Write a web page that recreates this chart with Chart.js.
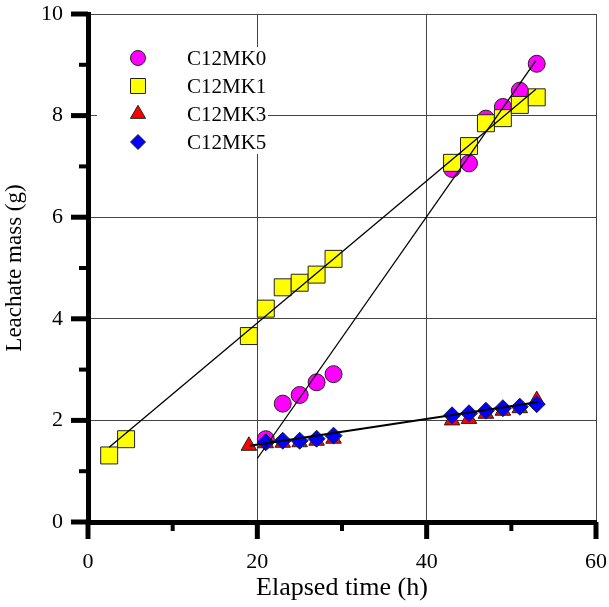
<!DOCTYPE html>
<html>
<head>
<meta charset="utf-8">
<title>Leachate mass vs elapsed time</title>
<script src="https://cdn.jsdelivr.net/npm/chart.js@4.4.0/dist/chart.umd.min.js"></script>
<style>
  html, body { margin: 0; padding: 0; background: #fff; }
  #chart { display: block; }
</style>
</head>
<body>
<canvas id="chart" width="609" height="607"></canvas>
<script>
// values
const xTickLabels = [0, 20, 40, 60];
const yTickLabels = [0, 2, 4, 6, 8, 10];

const timeMK0 = [21, 23, 25, 27, 29, 43, 45, 47, 49, 51, 53];
const massMK0 = [1.63, 2.33, 2.5, 2.75, 2.91, 6.95, 7.06, 7.94, 8.17, 8.49, 9.02];

const timeMK1 = [2.5, 4.5, 19, 21, 23, 25, 27, 29, 43, 45, 47, 49, 51, 53];
const massMK1 = [1.31, 1.63, 3.66, 4.2, 4.62, 4.71, 4.87, 5.18, 7.07, 7.4, 7.85, 7.95, 8.21, 8.36];

const timeMK3 = [19, 21, 23, 25, 27, 29, 43, 45, 47, 49, 51, 53];
const massMK3 = [1.5, 1.55, 1.56, 1.57, 1.6, 1.64, 2.0, 2.03, 2.13, 2.19, 2.24, 2.4];

const timeMK5 = [21, 23, 25, 27, 29, 43, 45, 47, 49, 51, 53];
const massMK5 = [1.57, 1.6, 1.6, 1.64, 1.7, 2.1, 2.14, 2.19, 2.24, 2.27, 2.32];

// fitted straight lines (end points)
const fitMK1Time = [2.5, 52.9];
const fitMK1Mass = [1.47, 8.52];
const fitMK0Time = [20, 52.9];
const fitMK0Mass = [1.25, 9.08];
const fitLowTime = [19.1, 53.2];
const fitLowMass = [1.5, 2.36];

const toPoints = (xs, ys) => xs.map((x, i) => ({ x: x, y: ys[i] }));

const FONT = "'Liberation Serif', 'Times New Roman', serif";

const markerSets = [
    { label: 'C12MK0', data: toPoints(timeMK0, massMK0), pointStyle: 'circle', pointRadius: 8.5, legendRadius: 7.5, backgroundColor: '#ff00ff', order: 5 },
    { label: 'C12MK1', data: toPoints(timeMK1, massMK1), pointStyle: 'rect', pointRadius: 12, legendRadius: 10.6, backgroundColor: '#ffff00', order: 4 },
    { label: 'C12MK3', data: toPoints(timeMK3, massMK3), pointStyle: 'triangle', pointRadius: 9, legendRadius: 8.7, backgroundColor: '#ff0000', order: 3 },
    { label: 'C12MK5', data: toPoints(timeMK5, massMK5), pointStyle: 'rectRot', pointRadius: 8.5, legendRadius: 7.5, backgroundColor: '#0000ff', order: 2 }
];
markerSets.forEach(ds => {
    ds.borderColor = '#222';
    ds.borderWidth = 1;
    ds.pointBorderWidth = 1;
    ds.showLine = false;
});

const fitSets = [
    { data: toPoints(fitMK1Time, fitMK1Mass), borderWidth: 1.3 },
    { data: toPoints(fitMK0Time, fitMK0Mass), borderWidth: 1.3 },
    { data: toPoints(fitLowTime, fitLowMass), borderWidth: 2 }
].map(ds => Object.assign(ds, {
    label: '',
    showLine: true,
    pointRadius: 0,
    borderColor: '#000',
    order: 1
}));

// legend drawn inside the plot area, on a white box
const innerLegend = {
    id: 'innerLegend',
    beforeDatasetsDraw(chart) {
        const ctx = chart.ctx;
        const area = chart.chartArea;
        ctx.save();
        ctx.fillStyle = '#fff';
        ctx.fillRect(area.left + 9, area.top + 33, 171, 107);
        markerSets.forEach((ds, i) => {
            const cy = area.top + 44 + i * 28;
            ctx.fillStyle = ds.backgroundColor;
            ctx.strokeStyle = ds.borderColor;
            ctx.lineWidth = 1;
            Chart.helpers.drawPoint(ctx, { pointStyle: ds.pointStyle, radius: ds.legendRadius, rotation: 0, borderWidth: 1 }, area.left + 50, cy);
            ctx.fillStyle = '#000';
            ctx.font = '21px ' + FONT;
            ctx.textAlign = 'left';
            ctx.textBaseline = 'middle';
            ctx.fillText(ds.label, area.left + 99, cy + 1);
        });
        ctx.restore();
    }
};

// thick outside tick marks, long for labelled ticks and short for the others
const tickMarks = {
    id: 'tickMarks',
    afterDraw(chart) {
        const ctx = chart.ctx;
        const xs = chart.scales.x, ys = chart.scales.y;
        ctx.save();
        ctx.strokeStyle = '#000';
        xs.ticks.forEach(t => {
            const px = xs.getPixelForValue(t.value);
            const major = xTickLabels.includes(t.value);
            ctx.lineWidth = major ? 5 : 4;
            ctx.beginPath();
            ctx.moveTo(px, xs.top);
            ctx.lineTo(px, xs.top + (major ? 17 : 9));
            ctx.stroke();
        });
        ys.ticks.forEach(t => {
            const py = ys.getPixelForValue(t.value);
            const major = yTickLabels.includes(t.value);
            ctx.lineWidth = major ? 5 : 4;
            ctx.beginPath();
            ctx.moveTo(ys.right, py);
            ctx.lineTo(ys.right - (major ? 17 : 9), py);
            ctx.stroke();
        });
        ctx.restore();
    }
};

new Chart(document.getElementById('chart'), {
    type: 'scatter',
    data: { datasets: fitSets.concat(markerSets) },
    plugins: [innerLegend, tickMarks],
    options: {
        responsive: false,
        animation: false,
        devicePixelRatio: 1,
        layout: { padding: { top: 14, right: 12, left: 0, bottom: 0 } },
        plugins: {
            legend: { display: false },
            tooltip: { enabled: false }
        },
        scales: {
            x: {
                type: 'linear',
                min: 0,
                max: 60,
                afterFit: scale => {
                    scale.height = 85;
                    scale.paddingLeft = 0;
                    scale.paddingRight = 0;
                },
                ticks: {
                    stepSize: 10,
                    padding: 10,
                    color: '#000',
                    font: { family: FONT, size: 22 },
                    callback: v => xTickLabels.includes(v) ? v : ''
                },
                grid: {
                    color: c => (c.tick && xTickLabels.includes(c.tick.value)) ? '#444' : 'rgba(0,0,0,0)',
                    lineWidth: 1,
                    tickLength: 17,
                    tickColor: 'rgba(0,0,0,0)'
                },
                border: { color: '#000', width: 5 },
                title: {
                    display: true,
                    text: 'Elapsed time (h)',
                    color: '#000',
                    font: { family: FONT, size: 26 },
                    padding: { top: 0, bottom: 3 }
                }
            },
            y: {
                type: 'linear',
                min: 0,
                max: 10,
                afterFit: scale => {
                    scale.width = 88;
                    scale.paddingTop = 0;
                    scale.paddingBottom = 0;
                },
                ticks: {
                    stepSize: 1,
                    padding: 8,
                    color: '#000',
                    font: { family: FONT, size: 22 },
                    callback: v => yTickLabels.includes(v) ? v : ''
                },
                grid: {
                    color: c => (c.tick && yTickLabels.includes(c.tick.value)) ? '#444' : 'rgba(0,0,0,0)',
                    lineWidth: 1,
                    tickLength: 17,
                    tickColor: 'rgba(0,0,0,0)'
                },
                border: { color: '#000', width: 5 },
                title: {
                    display: true,
                    text: 'Leachate mass (g)',
                    color: '#000',
                    font: { family: FONT, size: 23 },
                    padding: { top: 1, bottom: 0 }
                }
            }
        }
    }
});
</script>
</body>
</html>
